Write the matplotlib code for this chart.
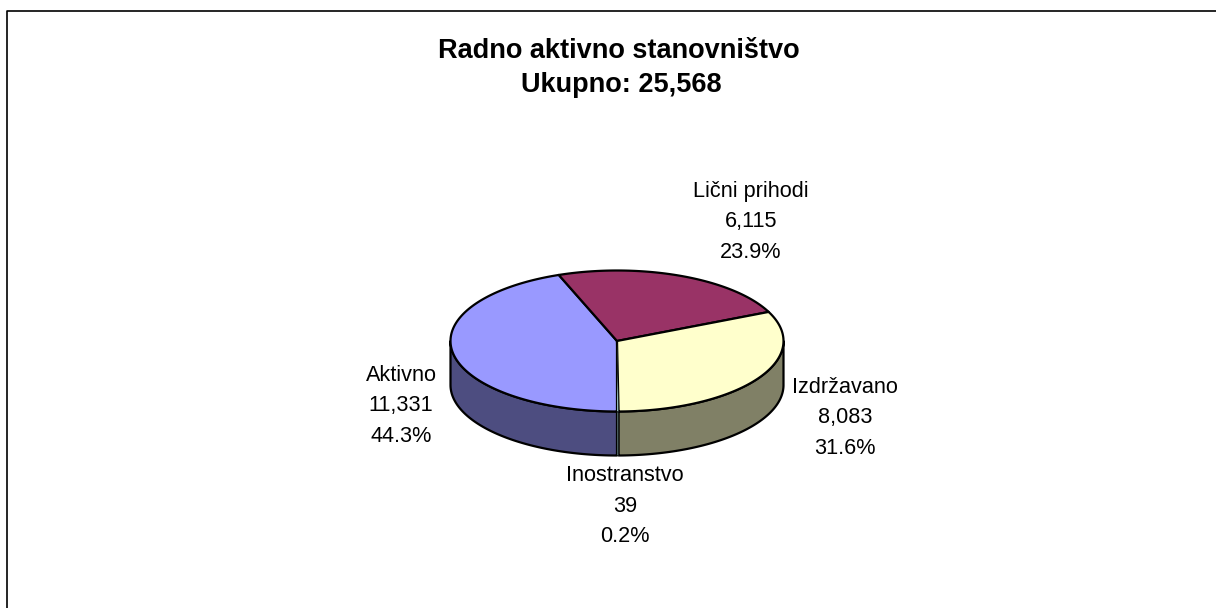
import numpy as np
import matplotlib
matplotlib.use('Agg')
import matplotlib.pyplot as plt

# Values from the chart, clockwise from the bottom
categories = ['Aktivno', 'Lični prihodi', 'Izdržavano', 'Inostranstvo']
values = [11331, 6115, 8083, 39]
top_colors = ['#9999FF', '#993366', '#FFFFCC', '#CCFFFF']
side_colors = ['#4D4D80', '#80334D', '#808066', '#668080']
title_lines = ['Radno aktivno stanovništvo', 'Ukupno: {:,}']

# Where the labels sit (pixels, centre of the text block)
label_pos = [(401, 406), (751, 222), (845, 418), (625, 506)]

W, H = 1216, 608
CX, CY = 617, 341
RX, RY = 166.5, 70.5
DEPTH = 44

plt.rcParams['font.family'] = ['Liberation Sans', 'DejaVu Sans']

fig = plt.figure(figsize=(W / 100, H / 100), dpi=100)
ax = fig.add_axes([0, 0, 1, 1])
ax.set_xlim(0, W)
ax.set_ylim(H, 0)
ax.axis('off')

# Chart frame: only the left and top edges are visible in the crop
ax.plot([7, 7, W], [H, 11, 11], color='black', lw=1.2, solid_capstyle='butt')


def rim(a0, a1, dy=0):
    t = np.radians(np.linspace(a0, a1, max(int(abs(a1 - a0)) * 2, 2)))
    return CX + RX * np.cos(t), CY + dy - RY * np.sin(t)


total = sum(values)
fractions = [v / total for v in values]
edges = 270 - 360 * np.cumsum([0] + fractions)

# Very thin slices get a hairline or they turn solid black
line_widths = [1.6 if f > 0.01 else 0.4 for f in fractions]

# Side walls first: only the part below the ellipse centre line shows
for i in range(len(values)):
    a0, a1 = edges[i], edges[i + 1]
    for shift in (0, -360):
        s0, s1 = max(min(a0, a1) + shift, -180), min(max(a0, a1) + shift, 0)
        if s1 > s0:
            x1, y1 = rim(s0, s1)
            x2, y2 = rim(s1, s0, DEPTH)
            ax.fill(np.r_[x1, x2], np.r_[y1, y2], fc=side_colors[i], ec='black', lw=line_widths[i], joinstyle='round')

# Top faces
for i in range(len(values)):
    x, y = rim(edges[i], edges[i + 1])
    ax.fill(np.r_[CX, x], np.r_[CY, y], fc=top_colors[i], ec='black', lw=line_widths[i], joinstyle='round')

ax.text(619, 51, title_lines[0], ha='center', va='center', fontsize=19.5, fontweight='bold')
ax.text(621, 85, title_lines[1].format(total), ha='center', va='center', fontsize=19.5, fontweight='bold')

for name, v, f, (lx, ly) in zip(categories, values, fractions, label_pos):
    ax.text(lx, ly, f'{name}\n{v:,}\n{f * 100:.1f}%', ha='center', va='center',
            fontsize=15.6, linespacing=1.6, color='black')

fig.savefig('out.png', dpi=100, facecolor='white')
